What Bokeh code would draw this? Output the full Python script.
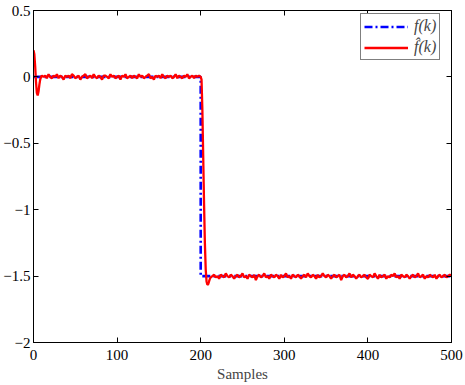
from bokeh.plotting import figure
from bokeh.models import Range1d, LinearAxis, FixedTicker, Legend, LegendItem
from bokeh.embed import file_html
from bokeh.resources import INLINE

# ---------------- data ----------------
# reference signal f(k): step from 0 to -1.5 at k = 200
f_k = [0, 200, 200, 500]
f_val = [0.0, 0.0, -1.5, -1.5]

# estimate f_hat(k): initial transient (k = 0..10)
tr_k = [0, 1, 2, 3, 4, 5, 6, 7, 8, 9, 10]
tr_val = [0.20, 0.17, 0.08, -0.04, -0.12, -0.14, -0.11, -0.06, -0.02, 0.00, 0.01]

# estimate before the step (k = 12, 14, ..., 198)
pre_val = [
    0.00, 0.01, -0.01, 0.02, 0.00, -0.01, 0.01, 0.00, 0.02, -0.01,
    0.01, 0.00, -0.02, 0.01, 0.00, 0.01, -0.01, 0.02, 0.01, -0.01,
    0.00, 0.01, -0.02, 0.00, 0.01, 0.02, -0.01, 0.00, 0.01, -0.01,
    0.02, 0.00, -0.01, 0.01, 0.00, -0.02, 0.01, 0.01, 0.00, -0.01,
    0.02, 0.00, 0.01, -0.01, 0.00, 0.01, -0.02, 0.01, 0.00, 0.02,
    -0.01, 0.00, 0.01, -0.01, 0.01, 0.00, -0.01, 0.02, 0.00, 0.01,
    -0.01, 0.00, 0.01, 0.02, -0.01, 0.00, -0.02, 0.01, 0.00, 0.01,
    -0.01, 0.02, 0.00, -0.01, 0.01, 0.00, 0.01, -0.01, 0.00, 0.02,
    -0.01, 0.01, 0.00, -0.01, 0.01, 0.00, 0.02, -0.01, 0.00, 0.01,
    -0.01, 0.01, 0.00, 0.01,
]

# estimate during the step (k = 200..212)
st_k = [200, 201, 202, 203, 204, 205, 206, 207, 208, 209, 210, 211, 212]
st_val = [0.00, -0.02, -0.25, -0.60, -0.95, -1.25, -1.45, -1.54, -1.565, -1.56, -1.54, -1.52, -1.51]

# estimate after the step (k = 214, 216, ..., 500)
post_val = [
    -1.50, -1.49, -1.51, -1.50, -1.52, -1.49, -1.50, -1.51, -1.48, -1.50,
    -1.51, -1.49, -1.50, -1.52, -1.50, -1.49, -1.51, -1.50, -1.48, -1.51,
    -1.50, -1.52, -1.49, -1.50, -1.51, -1.49, -1.53, -1.50, -1.49, -1.51,
    -1.50, -1.48, -1.51, -1.50, -1.52, -1.49, -1.50, -1.51, -1.49, -1.50,
    -1.52, -1.49, -1.51, -1.50, -1.48, -1.51, -1.50, -1.52, -1.49, -1.50,
    -1.51, -1.49, -1.50, -1.52, -1.50, -1.49, -1.51, -1.48, -1.50, -1.51,
    -1.49, -1.50, -1.52, -1.49, -1.51, -1.50, -1.48, -1.50, -1.51, -1.49,
    -1.50, -1.52, -1.50, -1.49, -1.51, -1.50, -1.49, -1.53, -1.50, -1.49,
    -1.51, -1.50, -1.48, -1.51, -1.49, -1.50, -1.52, -1.50, -1.49, -1.51,
    -1.50, -1.49, -1.51, -1.52, -1.49, -1.50, -1.51, -1.48, -1.50, -1.52,
    -1.49, -1.51, -1.50, -1.49, -1.52, -1.50, -1.51, -1.49, -1.50, -1.48,
    -1.51, -1.50, -1.52, -1.49, -1.50, -1.51, -1.49, -1.50, -1.52, -1.50,
    -1.49, -1.51, -1.50, -1.48, -1.51, -1.50, -1.49, -1.52, -1.50, -1.51,
    -1.49, -1.50, -1.51, -1.49, -1.52, -1.50, -1.49, -1.51, -1.50, -1.49,
    -1.51, -1.50, -1.49, -1.50,
]

x_ticks = [0, 100, 200, 300, 400, 500]
y_ticks = [-2, -1.5, -1, -0.5, 0, 0.5]
y_tick_labels = ["\u22122", "\u22121.5", "\u22121", "\u22120.5", "0", "0.5"]
x_label = "Samples"
legend_labels = ["f(k)", "f\u0302(k)"]

# ---------------- assemble ----------------
pre_k = [12 + 2 * i for i in range(len(pre_val))]
post_k = [214 + 2 * i for i in range(len(post_val))]
fh_k = tr_k + pre_k + st_k + post_k
fh_val = tr_val + pre_val + st_val + post_val

FONT = "Liberation Serif"

p = figure(width=465, height=385, output_backend="svg", toolbar_location=None,
           x_range=Range1d(0, 500), y_range=Range1d(-2, 0.5),
           min_border_left=32, min_border_right=14, min_border_top=10, min_border_bottom=43)
p.background_fill_color = "white"
p.border_fill_color = "white"
p.outline_line_color = "black"
p.outline_line_width = 1
p.grid.visible = False

r_f = p.line(f_k, f_val, line_color="#0000ff", line_width=2.6, line_dash="8 3 2 3")
r_h = p.line(fh_k, fh_val, line_color="#ff0000", line_width=2.3)

def style_axis(ax):
    ax.major_tick_in = 5
    ax.major_tick_out = 0
    ax.minor_tick_line_color = None
    ax.axis_line_color = "black"
    ax.major_tick_line_color = "black"
    ax.major_label_text_font = FONT
    ax.major_label_text_font_size = "15px"
    ax.major_label_text_color = "black"

xa = p.xaxis[0]
xa.ticker = FixedTicker(ticks=x_ticks)
style_axis(xa)
xa.major_label_standoff = 7
xa.axis_label = x_label
xa.axis_label_text_font = FONT
xa.axis_label_text_font_size = "15px"
xa.axis_label_text_font_style = "normal"
xa.axis_label_standoff = 3

ya = p.yaxis[0]
ya.ticker = FixedTicker(ticks=y_ticks)
ya.major_label_overrides = {t: s for t, s in zip(y_ticks, y_tick_labels)}
style_axis(ya)
ya.major_label_standoff = 3

top_ax = LinearAxis(ticker=FixedTicker(ticks=x_ticks))
style_axis(top_ax)
top_ax.major_label_overrides = {t: "" for t in x_ticks}
top_ax.major_label_standoff = 0
p.add_layout(top_ax, "above")
right_ax = LinearAxis(ticker=FixedTicker(ticks=y_ticks))
style_axis(right_ax)
right_ax.major_label_overrides = {t: "" for t in y_ticks}
right_ax.major_label_standoff = 0
p.add_layout(right_ax, "right")

legend = Legend(items=[LegendItem(label=legend_labels[0], renderers=[r_f]),
                       LegendItem(label=legend_labels[1], renderers=[r_h])],
                location=(327, 282))
legend.margin = 0
legend.padding = 3
legend.spacing = 3
legend.glyph_width = 44
legend.glyph_height = 17
legend.label_standoff = 6
legend.label_text_font = FONT
legend.label_text_font_size = "16px"
legend.label_text_font_style = "italic"
legend.border_line_color = "black"
legend.border_line_width = 1
legend.background_fill_color = "white"
legend.background_fill_alpha = 1
p.add_layout(legend)

open("out.html", "w").write(file_html(p, INLINE))
